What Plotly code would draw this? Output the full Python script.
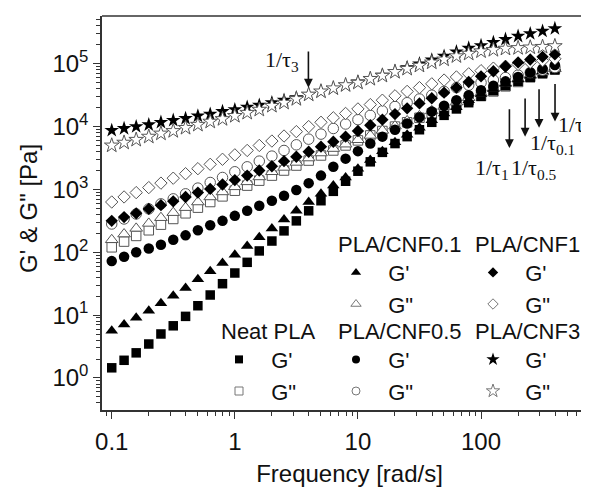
import math
import plotly.graph_objects as go

# ---------------- data ----------------
freq = [0.1, 0.126, 0.158, 0.2, 0.251, 0.316, 0.398, 0.501, 0.631, 0.794,
        1.0, 1.26, 1.58, 2.0, 2.51, 3.16, 3.98, 5.01, 6.31, 7.94,
        10.0, 12.6, 15.8, 20.0, 25.1, 31.6, 39.8, 50.1, 63.1, 79.4,
        100, 126, 158, 200, 251, 316, 398]

neat_Gp = [1.45, 1.91, 2.51, 3.47, 5.01, 6.76, 9.55, 14.1, 20.9, 31.6, 46.8, 69.2, 105, 151, 219, 316, 457, 661,
           933, 1350, 1950, 2750, 3890, 5370, 6920, 8910, 11700, 15100, 19100, 24000, 30200, 37200, 44700,
           52500, 60300, 69200, 79400]
neat_Gpp = [120, 148, 182, 224, 275, 339, 417, 513, 631, 776, 955, 1150, 1380, 1660, 2000, 2400, 2880, 3470,
            4170, 5010, 6030, 7240, 8510, 10000, 11700, 13800, 16200, 19100, 22400, 26300, 30900, 36300,
            43700, 51300, 61700, 72400, 83200]
cnf01_Gp = [5.62, 7.08, 9.12, 11.7, 15.5, 20.4, 26.9, 37.2, 50.1, 67.6, 91.2, 126, 174, 240, 331, 457, 631, 851,
            1150, 1550, 2140, 2950, 4070, 5620, 7410, 9550, 12600, 16200, 20400, 26300, 33100, 39800, 47900,
            56200, 64600, 75900, 87100]
cnf01_Gpp = [158, 195, 240, 288, 355, 427, 513, 631, 759, 912, 1100, 1320, 1580, 1910, 2240, 2690, 3160, 3800,
             4470, 5250, 6170, 7240, 8710, 10200, 12300, 14800, 17800, 20900, 24500, 28800, 33900, 40700,
             49000, 57500, 66100, 74100, 83200]
cnf05_Gp = [72.4, 85.1, 100, 115, 132, 158, 186, 224, 269, 316, 380, 457, 550, 661, 794, 977, 1260, 1660,
            2290, 3090, 4070, 5370, 6920, 8910, 11200, 14100, 17400, 21400, 26300, 31600, 38000, 44700,
            52500, 61700, 72400, 83200, 95500]
cnf05_Gpp = [282, 339, 407, 490, 589, 708, 851, 1050, 1290, 1550, 1910, 2290, 2820, 3390, 4170, 5130, 6310,
             7590, 9330, 11000, 12900, 15100, 17800, 20900, 24000, 27500, 31600, 36300, 41700, 45700, 50100,
             55000, 60300, 66100, 72400, 79400, 87100]
cnf1_Gp = [316, 363, 417, 490, 562, 646, 759, 891, 1020, 1200, 1410, 1660, 2000, 2340, 2820, 3310, 3980, 4790,
           5750, 6920, 8510, 10500, 12900, 15800, 19500, 23400, 28200, 34700, 41700, 51300, 63100, 75900,
           91200, 105000, 117000, 129000, 141000]
cnf1_Gpp = [631, 759, 891, 1070, 1260, 1510, 1780, 2140, 2510, 3020, 3550, 4170, 5010, 5890, 7080, 8320, 10000,
            11700, 13800, 16200, 19100, 22400, 26300, 30900, 36300, 41700, 47900, 55000, 61700, 69200, 77600,
            85100, 91200, 97700, 105000, 112000, 120000]
cnf3_Gp = [8710, 9330, 10000, 10700, 11700, 12600, 13500, 14800, 15800, 17400, 18600, 20400, 21900, 24000,
           26300, 28800, 32400, 36300, 40700, 45700, 51300, 57500, 66100, 75900, 87100, 100000, 115000,
           132000, 155000, 178000, 195000, 219000, 245000, 275000, 302000, 331000, 363000]
cnf3_Gpp = [5010, 5560, 6170, 6920, 7760, 8510, 9550, 10700, 12000, 13200, 14800, 16600, 18600, 21400, 24000,
            27500, 32400, 36300, 40700, 45700, 50100, 57500, 64600, 74100, 83200, 93300, 105000, 117000,
            132000, 145000, 158000, 166000, 174000, 178000, 182000, 186000, 191000]

group_names = ["Neat PLA", "PLA/CNF0.1", "PLA/CNF0.5", "PLA/CNF1", "PLA/CNF3"]
series_names = ["G'", 'G"']

# relaxation markers: label subscripts and frequencies [rad/s]
tau_labels = ["3", "1", "0.5", "0.1", "0"]
tau_freqs = [3.96, 170, 228, 296, 399]

x_tickvals = [0.1, 1, 10, 100]
x_ticktext = ["0.1", "1", "10", "100"]
y_tickvals = [1, 10, 100, 1000, 10000, 100000]
y_ticktext = ["10<sup>0</sup>", "10<sup>1</sup>", "10<sup>2</sup>", "10<sup>3</sup>",
              "10<sup>4</sup>", "10<sup>5</sup>"]
x_title = "Frequency [rad/s]"
y_title = "G' & G\" [Pa]"

# ---------------- styles ----------------
FONT = "Liberation Sans, Arial, sans-serif"
SERIF = "Liberation Serif, Times New Roman, serif"
BLACK = "#000000"
OPEN_LINE = "#555555"
TXT = "#111111"

groups = [
    # (G' data, G'' data, symbol, data size, legend size, legend id, open drawn last)
    (neat_Gp, neat_Gpp, "square", 9.5, 8, "legend", False),
    (cnf01_Gp, cnf01_Gpp, "triangle-up", 11, 9, "legend2", False),
    (cnf05_Gp, cnf05_Gpp, "circle", 10.5, 8, "legend3", False),
    (cnf1_Gp, cnf1_Gpp, "diamond", 9.5, 8, "legend4", False),
    (cnf3_Gp, cnf3_Gpp, "star", 11, 10, "legend5", True),
]

NB = "\u00a0\u00a0"
fig = go.Figure()
for (gp, gpp, sym, size, lsize, leg, open_last) in groups:
    filled = go.Scatter(x=freq, y=gp, mode="markers", showlegend=False,
                        marker=dict(symbol=sym, size=size, color=BLACK, line=dict(width=0)))
    opened = go.Scatter(x=freq, y=gpp, mode="markers", showlegend=False,
                        marker=dict(symbol=sym, size=size, color="white",
                                    line=dict(width=1, color=OPEN_LINE)))
    if open_last:
        fig.add_trace(filled)
        fig.add_trace(opened)
    else:
        fig.add_trace(opened)
        fig.add_trace(filled)
    # legend-only entries (smaller symbols, as in the reference key)
    fig.add_trace(go.Scatter(x=[None], y=[None], mode="markers", name=NB + series_names[0], legend=leg,
                             marker=dict(symbol=sym, size=lsize, color=BLACK, line=dict(width=0))))
    fig.add_trace(go.Scatter(x=[None], y=[None], mode="markers", name=NB + series_names[1], legend=leg,
                             marker=dict(symbol=sym, size=lsize, color="white",
                                         line=dict(width=1, color="#777777"))))

# ---------------- layout ----------------
W, H = 589, 491
OFF = 8  # page body margin offset of the rendered figure
ML, MR, MT, MB = 94, 0, 8, 89
pw, ph = W - ML - MR, H - MT - MB


def px_to_paper(xs, ys):
    return (xs - OFF - ML) / pw, (H - MB - (ys - OFF)) / ph


legend_px = {
    "legend": (219, 310),
    "legend2": (336, 223),
    "legend3": (336, 310),
    "legend4": (473, 223),
    "legend5": (473, 310),
}
legend_layout = {}
for (gp, gpp, sym, size, lsize, leg, open_last), gname in zip(groups, group_names):
    lx, ly = px_to_paper(*legend_px[leg])
    legend_layout[leg] = dict(
        title=dict(text=gname, font=dict(family=FONT, size=22, color=TXT), side="top"),
        x=lx, y=ly, xanchor="left", yanchor="top", xref="paper", yref="paper",
        bgcolor="rgba(0,0,0,0)", borderwidth=0,
        font=dict(family=FONT, size=22, color=TXT),
        itemsizing="trace", tracegroupgap=0,
    )

minor_x = [0.08, 0.09] + [m * 10 ** e for e in (-1, 0, 1, 2) for m in range(2, 10) if m * 10 ** e < 800]
minor_y = [m * 10 ** e for e in (-1, 0, 1, 2, 3, 4, 5) for m in range(2, 10) if 0.3 <= m * 10 ** e <= 5.8e5]

axis_common = dict(
    type="log", showgrid=False, zeroline=False, showline=True, linecolor="#333333", linewidth=1.5,
    ticks="outside", ticklen=7, tickwidth=1.3, tickcolor="#333333",
    tickfont=dict(family=FONT, size=24, color=TXT),
    mirror=False,
)

fig.update_layout(
    width=W, height=H,
    margin=dict(l=ML, r=MR, t=MT, b=MB, autoexpand=False),
    paper_bgcolor="white", plot_bgcolor="white",
    font=dict(family=FONT, color=TXT),
    xaxis=dict(**axis_common, range=[-1.079, 2.942], tickvals=x_tickvals, ticktext=x_ticktext,
               ticklabelstandoff=2,
               minor=dict(tickvals=minor_x, ticks="outside", ticklen=4, tickwidth=1.2, tickcolor="#333333"),
               title=dict(text=x_title, font=dict(family=FONT, size=24, color=TXT), standoff=12)),
    yaxis=dict(**axis_common, range=[-0.51, 5.76], tickvals=y_tickvals, ticktext=y_ticktext,
               minor=dict(tickvals=minor_y, ticks="outside", ticklen=4, tickwidth=1.2, tickcolor="#333333")),
    **legend_layout,
)

# y-axis title (placed as rotated text for exact position)
tx, ty = px_to_paper(28, 209)
fig.add_annotation(x=tx, y=ty, xref="paper", yref="paper", xanchor="center", yanchor="middle",
                   text=y_title, textangle=-90, showarrow=False,
                   font=dict(family=FONT, size=24, color=TXT))

# top frame line
fig.add_shape(type="line", xref="paper", yref="paper", x0=0, x1=1, y0=1, y1=1,
              line=dict(color="#333333", width=1.5))

# arrows + labels for relaxation frequencies
arrow_tip = [4.62, 3.66, 3.84, 3.98, 4.08]   # log10 positions of arrow tips
arrow_tail = [5.22, 4.30, 4.47, 4.62, 4.70]
label_cfg = [  # (xanchor, xshift, y log)
    ("right", -7, 5.30),
    ("left", -36, 3.58),
    ("left", -16, 3.58),
    ("left", -11, 3.98),
    ("left", 1, 4.27),
]
for sub, f, tip, tail, (xa, xs, ly) in zip(tau_labels, tau_freqs, arrow_tip, arrow_tail, label_cfg):
    lx = math.log10(f)
    fig.add_annotation(x=lx, y=tip, ax=lx, ay=tail, xref="x", yref="y", axref="x", ayref="y",
                       text="", showarrow=True, arrowhead=2, arrowsize=1.1, arrowwidth=1.6,
                       arrowcolor=TXT)
    fig.add_annotation(x=lx, y=ly, xref="x", yref="y", xanchor=xa, yanchor="top", xshift=xs,
                       text="1/τ<sub>" + sub + "</sub>", showarrow=False,
                       font=dict(family=SERIF, size=22, color=TXT))

fig.write_html("out.html")
